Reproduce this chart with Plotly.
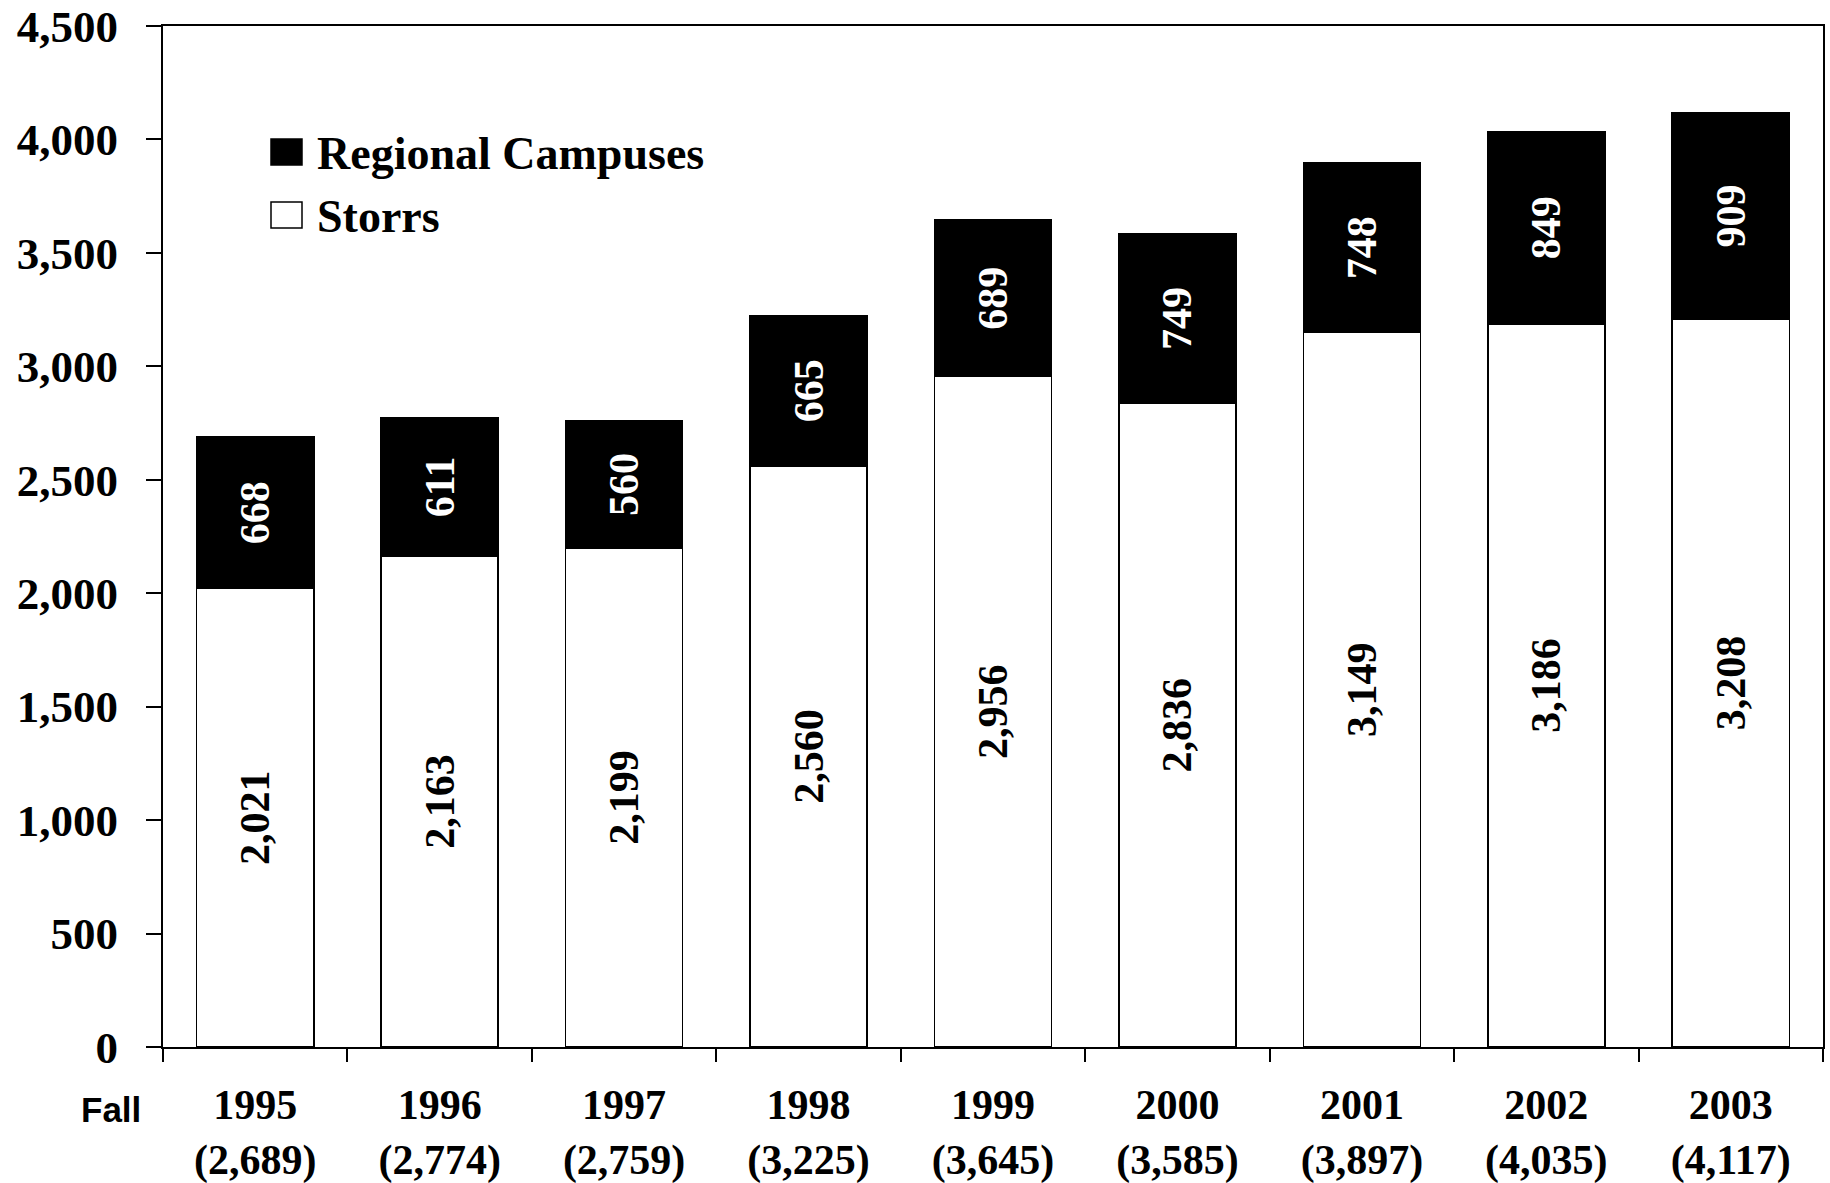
import plotly.graph_objects as go

years = ["1995", "1996", "1997", "1998", "1999", "2000", "2001", "2002", "2003"]
storrs = [2021, 2163, 2199, 2560, 2956, 2836, 3149, 3186, 3208]
regional = [668, 611, 560, 665, 689, 749, 748, 849, 909]
totals = [s + r for s, r in zip(storrs, regional)]
tick_text = [f"{y}<br>({t:,})" for y, t in zip(years, totals)]
y_ticks = [0, 500, 1000, 1500, 2000, 2500, 3000, 3500, 4000, 4500]
legend_items = [("Regional Campuses", "black"), ("Storrs", "white")]

SERIF = "Liberation Serif, Times New Roman, serif"
SANS = "Liberation Sans, Arial, sans-serif"

W, H = 1830, 1183
ML, MR, MT, MB = 163, 7, 26, 136
PW, PH = W - ML - MR, H - MT - MB


def px(xp):
    return (xp - ML) / PW


def py(yp):
    return (H - MB - yp) / PH


fig = go.Figure()

fig.add_trace(go.Bar(
    x=years, y=storrs, name="Storrs",
    marker=dict(color="white", line=dict(color="black", width=1.5)),
    text=[f"{v:,}" for v in storrs], textposition="inside", insidetextanchor="middle",
    textangle=-90, constraintext="none",
    textfont=dict(family=SERIF, size=42, color="black", weight="bold"),
    hoverinfo="skip",
))
fig.add_trace(go.Bar(
    x=years, y=regional, name="Regional Campuses",
    marker=dict(color="black", line=dict(color="black", width=1.5)),
    text=[f"{v:,}" for v in regional], textposition="inside", insidetextanchor="middle",
    textangle=-90, constraintext="none",
    textfont=dict(family=SERIF, size=42, color="white", weight="bold"),
    hoverinfo="skip",
))

# legend drawn as swatches + labels (paper coordinates)
shapes = []
annotations = []
for i, (label, color) in enumerate(legend_items):
    top = 139 + i * 63
    shapes.append(dict(
        type="rect", xref="paper", yref="paper",
        x0=px(271), x1=px(302), y0=py(top + 26), y1=py(top),
        fillcolor=color, line=dict(color="black", width=1.5),
    ))
    annotations.append(dict(
        text=label, xref="paper", yref="paper", x=px(315), y=py(top + 14),
        xanchor="left", yanchor="middle", showarrow=False,
        font=dict(family=SERIF, size=46, color="black", weight="bold"),
    ))

annotations.append(dict(
    text="Fall", xref="paper", yref="paper", x=px(111), y=py(1109),
    xanchor="center", yanchor="middle", showarrow=False,
    font=dict(family=SANS, size=35, color="black", weight="bold"),
))

fig.update_layout(
    width=W, height=H,
    margin=dict(l=ML, r=MR, t=MT, b=MB, autoexpand=False),
    barmode="stack", bargap=0.365,
    paper_bgcolor="white", plot_bgcolor="white",
    showlegend=False,
    xaxis=dict(
        tickmode="array", tickvals=years, ticktext=tick_text,
        tickson="boundaries", ticks="outside", ticklen=13, tickwidth=1.5, tickcolor="black",
        showline=True, linecolor="black", linewidth=2, mirror=True,
        showgrid=False, zeroline=False, automargin=False,
        tickfont=dict(family=SERIF, size=42, color="black", weight="bold"),
        ticklabelstandoff=20, ticklabeloverflow="allow",
    ),
    yaxis=dict(
        range=[0, 4500], tickmode="array", tickvals=y_ticks,
        ticktext=[f"{v:,}" for v in y_ticks],
        ticks="outside", ticklen=15, tickwidth=1.5, tickcolor="black",
        showline=True, linecolor="black", linewidth=2, mirror=True,
        showgrid=False, zeroline=False, automargin=False,
        tickfont=dict(family=SERIF, size=45, color="black", weight="bold"),
        ticklabelstandoff=19, ticklabeloverflow="allow",
    ),
    shapes=shapes,
    annotations=annotations,
)

fig.write_html(
    "out.html",
    config={"displayModeBar": False},
    post_script="document.body.style.margin='0px';",
)
